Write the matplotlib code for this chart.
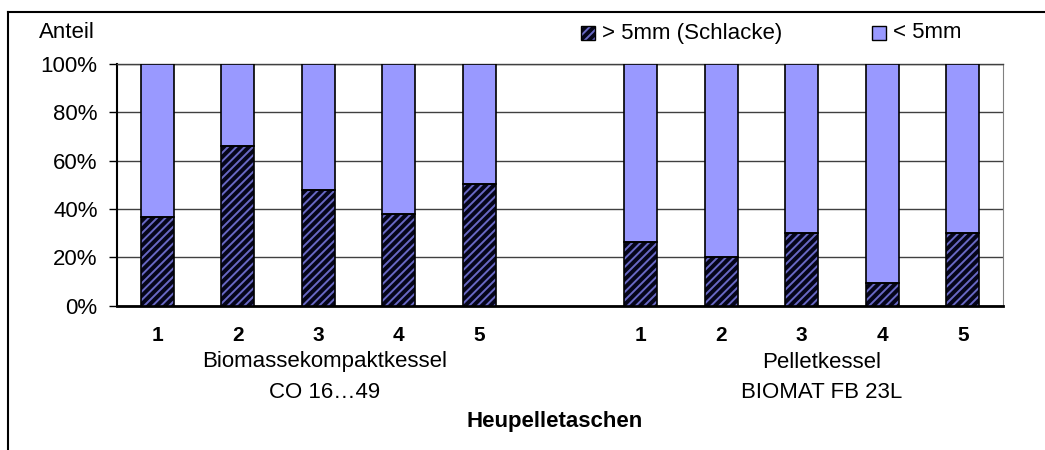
"""Stacked percentage bars: ash fractions of hay pellets in two boilers."""
import matplotlib

matplotlib.use("Agg")
import matplotlib.pyplot as plt
import numpy as np
from matplotlib.lines import Line2D
from matplotlib.patches import Rectangle

plt.rcParams["font.family"] = ["Liberation Sans", "DejaVu Sans"]
plt.rcParams["hatch.linewidth"] = 1.4

# Data
slots_group1 = ["1", "2", "3", "4", "5"]
slots_group2 = ["1", "2", "3", "4", "5"]
slag_group1 = [0.365, 0.66, 0.48, 0.38, 0.505]
slag_group2 = [0.265, 0.20, 0.30, 0.092, 0.30]
group_names = [["Biomassekompaktkessel", "CO 16…49"], ["Pelletkessel", "BIOMAT FB 23L"]]
series_names = ["> 5mm (Schlacke)", "< 5mm"]
y_ticks = [0.0, 0.2, 0.4, 0.6, 0.8, 1.0]

# Colors
DARK = "#05051a"
HATCH = "#6868c4"
LIGHT = "#9999ff"
W, H = 1045, 450  # figure size in px, used for placing loose texts

labels = slots_group1 + [""] + slots_group2
slag = np.array(slag_group1 + [0.0] + slag_group2)
fine = np.where(slag > 0, 1.0 - slag, 0.0)
x = np.arange(len(labels))
mask = np.array([lab != "" for lab in labels])

fig = plt.figure(figsize=(W / 100, H / 100), dpi=100)
ax = fig.add_axes([117 / W, 1 - 305.5 / H, 886 / W, 241.5 / H])

width = 0.41
# hatched lower part: draw fill + hatch, then black outline on top
ax.bar(x[mask], slag[mask], width, color=DARK, edgecolor=HATCH, hatch="////", lw=0, zorder=3)
ax.bar(x[mask], slag[mask], width, fill=False, edgecolor="black", lw=1.2, zorder=4)
ax.bar(x[mask], fine[mask], width, bottom=slag[mask], color=LIGHT, edgecolor="black", lw=1.2, zorder=3)

ax.set_xlim(-0.5, len(labels) - 0.5)
ax.set_ylim(0, 1)
ax.set_yticks(y_ticks)
ax.set_yticklabels([f"{int(round(t * 100))}%" for t in y_ticks], fontsize=16)
ax.set_xticks(x)
ax.set_xticklabels(labels, fontsize=15, fontweight="bold")
ax.tick_params(axis="x", length=0, pad=15)
ax.tick_params(axis="y", length=6, width=1, pad=8)
ax.yaxis.grid(True, color="#404040", lw=1, zorder=0)
ax.set_axisbelow(True)

ax.spines["left"].set_linewidth(1.5)
ax.spines["bottom"].set_linewidth(2)
ax.spines["right"].set_color("#808080")
ax.spines["top"].set_color("#404040")
ax.spines["top"].set_linewidth(1)

# group labels under the numbers
for xc, (line1, line2) in zip([325, 822], group_names):
    fig.text(xc / W, 1 - 362 / H, line1, ha="center", va="center", fontsize=16)
    fig.text(xc / W, 1 - 393 / H, line2, ha="center", va="center", fontsize=16)

fig.text(555 / W, 1 - 421 / H, "Heupelletaschen", ha="center", va="center",
         fontsize=16, fontweight="bold")
fig.text(39 / W, 1 - 33 / H, "Anteil", ha="left", va="center", fontsize=16)

# legend, drawn by hand to match the spacing
sw = 14
for x0, name, style in [
    (581, series_names[0], dict(facecolor=DARK, edgecolor=HATCH, hatch="////", lw=0)),
    (872, series_names[1], dict(facecolor=LIGHT, edgecolor="black", lw=1)),
]:
    fig.add_artist(Rectangle((x0 / W, 1 - 40 / H), sw / W, sw / H, transform=fig.transFigure, **style))
    if "hatch" in style:
        fig.add_artist(Rectangle((x0 / W, 1 - 40 / H), sw / W, sw / H, transform=fig.transFigure,
                                 fill=False, edgecolor="black", lw=1))
    fig.text((x0 + sw + 7) / W, 1 - 33 / H, name, ha="left", va="center", fontsize=16)

# outer chart frame
fig.add_artist(Line2D([8 / W, 1], [1 - 12 / H] * 2, color="black", lw=1.5, transform=fig.transFigure))
fig.add_artist(Line2D([8 / W] * 2, [0, 1 - 12 / H], color="black", lw=1.5, transform=fig.transFigure))

fig.savefig("out.png", dpi=100)
